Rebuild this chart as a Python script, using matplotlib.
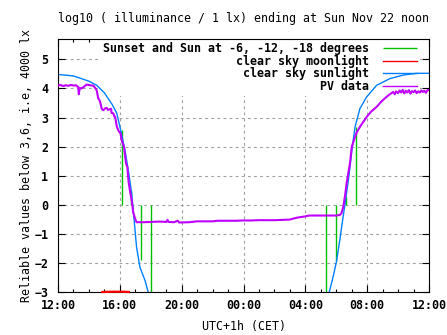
import matplotlib
matplotlib.use('Agg')
import matplotlib.pyplot as plt
from matplotlib.ticker import MultipleLocator, FixedLocator

# Saturday noon -> Sunday noon, times as clock strings
sun_eve_t = ['12:00', '13:00', '14:00', '14:30', '15:00', '15:30', '15:48', '16:05',
             '16:20', '16:33', '16:46', '16:56', '17:05', '17:18', '17:38', '17:50', '18:05']
sun_eve_v = [4.48, 4.43, 4.25, 4.11, 3.85, 3.45, 3.15, 2.5,
             1.87, 1.18, 0.39, -0.58, -1.46, -2.15, -2.61, -3.0, -3.5]
sun_mor_t = ['05:20', '05:33', '05:48', '06:01', '06:14', '06:25', '06:34', '06:47', '07:04',
             '07:13', '07:32', '07:58', '08:37', '09:29', '10:20', '11:12', '12:00']
sun_mor_v = [-3.5, -3.0, -2.47, -1.95, -1.2, -0.51, 0.02, 0.84, 2.1,
             2.68, 3.31, 3.71, 4.11, 4.34, 4.46, 4.52, 4.52]

moon_t = ['14:52', '15:30', '16:10', '16:35']
moon_v = [-3.0, -2.99, -2.99, -3.0]

# sunset, sun at -6, -12, -18 degrees (evening) and the reverse in the morning
twi_eve_t = ['16:07', '16:42', '17:21', '18:00']
twi_eve_v = [2.56, 0.48, -1.9, -3.6]
twi_mor_t = ['05:20', '05:59', '06:38', '07:17']
twi_mor_v = [-3.6, -1.95, 0.25, 2.68]

pv_eve_t = ['12:00', '12:10', '12:20', '12:30', '12:40', '12:50', '13:00', '13:10', '13:18',
            '13:21', '13:24', '13:30', '13:40', '13:50', '14:00', '14:10', '14:17', '14:24',
            '14:30', '14:36', '14:43', '14:50', '14:56', '15:02', '15:09', '15:14', '15:19',
            '15:26', '15:28', '15:35', '15:38', '15:42', '15:48', '15:54', '16:03', '16:07',
            '16:16', '16:24', '16:29', '16:34', '16:39', '16:46', '16:52', '17:00', '17:05',
            '17:30', '18:00', '18:30', '18:40', '19:00', '19:05', '19:08', '19:30', '19:45',
            '19:50', '20:30', '21:00', '21:30', '22:00', '22:20', '23:00', '23:30']
pv_eve_v = [4.10, 4.12, 4.08, 4.11, 4.09, 4.12, 4.10, 4.11, 4.05,
            3.80, 4.02, 4.00, 4.05, 4.13, 4.12, 4.10, 4.10, 4.02,
            3.94, 3.67, 3.56, 3.29, 3.25, 3.31, 3.33, 3.26, 3.28,
            3.30, 3.16, 3.14, 3.05, 3.02, 2.70, 2.56, 2.44, 2.22,
            2.00, 1.42, 1.30, 0.79, 0.50, 0.15, -0.26, -0.50, -0.60,
            -0.60, -0.59, -0.58, -0.58, -0.59, -0.52, -0.59, -0.60, -0.55,
            -0.61, -0.60, -0.57, -0.57, -0.57, -0.55, -0.55, -0.55]
pv_mor_t = ['00:00', '00:30', '01:00', '01:30', '02:00', '02:30', '03:00', '03:15', '03:30',
            '03:45', '04:00', '04:15', '05:00', '05:40', '06:00', '06:14', '06:20', '06:27',
            '06:34', '06:40', '06:47', '06:53', '07:00', '07:06', '07:13', '07:20', '07:32',
            '07:45', '07:58', '08:15', '08:37', '08:55', '09:15', '09:28', '09:41', '09:47',
            '09:52', '10:00', '10:06', '10:12', '10:18', '10:24', '10:30', '10:36', '10:42',
            '10:48', '10:54', '11:00', '11:06', '11:12', '11:18', '11:24', '11:30', '11:36',
            '11:42', '11:48', '11:54', '12:00']
pv_mor_v = [-0.54, -0.54, -0.53, -0.53, -0.53, -0.52, -0.51, -0.47, -0.44,
            -0.42, -0.40, -0.37, -0.37, -0.37, -0.37, -0.35, -0.30, -0.08,
            0.30, 0.72, 1.10, 1.41, 1.98, 2.15, 2.33, 2.50, 2.68,
            2.85, 3.02, 3.20, 3.37, 3.55, 3.71, 3.80, 3.88, 3.80,
            3.90, 3.84, 3.93, 3.86, 3.95, 3.83, 3.92, 3.86, 3.94,
            3.82, 3.91, 3.87, 3.93, 3.84, 3.90, 3.86, 3.93, 3.88,
            3.92, 3.85, 3.94, 3.95]

tick_labels = ['12:00', '16:00', '20:00', '00:00', '04:00', '08:00', '12:00']


def hrs(clock, day=0):
    # hours after Saturday noon
    h, m = clock.split(':')
    return int(h) + int(m) / 60.0 + 24 * day - 12


def series(eve_t, eve_v, mor_t, mor_v):
    t = [hrs(c) for c in eve_t] + [hrs(c, 1) for c in mor_t]
    return t, list(eve_v) + list(mor_v)


sun_t, sun_v = series(sun_eve_t, sun_eve_v, sun_mor_t, sun_mor_v)
pv_t, pv_v = series(pv_eve_t, pv_eve_v, pv_mor_t, pv_mor_v)
twi_t, twi_v = series(twi_eve_t, twi_eve_v, twi_mor_t, twi_mor_v)

plt.rcParams['font.family'] = 'DejaVu Sans Mono'
plt.rcParams['font.weight'] = 'bold'
plt.rcParams['font.size'] = 8.4

fig = plt.figure(figsize=(4.47, 3.35), dpi=100)
ax = fig.add_axes([58 / 447, 43 / 335, 371 / 447, 253 / 335])

ax.vlines(twi_t, 0, twi_v, color='#00c000', lw=1.0, label='Sunset and Sun at -6, -12, -18 degrees', zorder=2)
ax.plot([hrs(c) for c in moon_t], moon_v, color='#ff0000', lw=1.6, clip_on=False, zorder=4,
        label='clear sky moonlight')
ax.plot(sun_t, sun_v, color='#0080ff', lw=1.0, label='clear sky sunlight', zorder=2)
ax.plot(pv_t, pv_v, color='#c000ff', lw=1.5, label='PV data', zorder=3)

ax.set_xlim(0, 24)
ax.set_ylim(-3, 5.7)
ax.xaxis.set_major_locator(FixedLocator([0, 4, 8, 12, 16, 20, 24]))
ax.xaxis.set_minor_locator(MultipleLocator(1))
ax.set_xticklabels(tick_labels)
ax.yaxis.set_major_locator(FixedLocator(range(-3, 6)))

ax.tick_params(which='both', direction='in', top=True, right=True, width=0.8)
ax.tick_params(which='major', length=5)
ax.tick_params(which='minor', length=2.5)
ax.tick_params(axis='x', pad=5)
ax.tick_params(axis='y', pad=7)
for s in ax.spines.values():
    s.set_linewidth(0.8)

ax.set_axisbelow(True)
ax.grid(True, which='major', color='#a0a0a0', lw=0.8, linestyle=(0, (2.5, 3)))

ax.set_title('log10 ( illuminance / 1 lx) ending at Sun Nov 22 noon', fontsize=8.4, pad=12)
ax.set_xlabel('UTC+1h (CET)', labelpad=6)
ax.set_ylabel('Reliable values below 3,6, i.e, 4000 lx', labelpad=1)

leg = ax.legend(loc='upper right', bbox_to_anchor=(1 - 3 / 371, 1 + 6 / 253),
                markerfirst=False, frameon=True, fancybox=False,
                edgecolor='none', facecolor='white', framealpha=1.0,
                handlelength=2.9, handletextpad=1.2, labelspacing=-0.05,
                borderpad=0.3, borderaxespad=0.5)
leg.set_zorder(1)
for ln in leg.get_lines():
    ln.set_linewidth(1.0)

fig.savefig('out.png', dpi=100)
